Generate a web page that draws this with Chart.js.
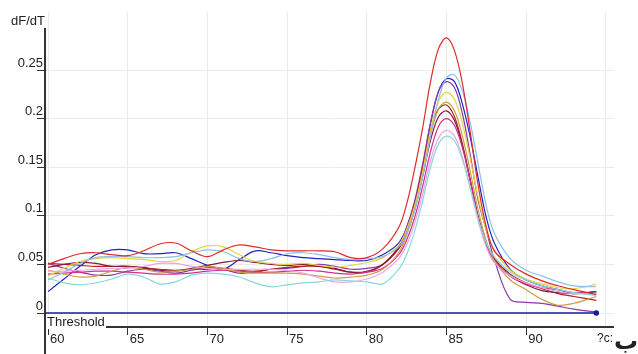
<!DOCTYPE html>
<html>
<head>
<meta charset="utf-8">
<script src="https://cdn.jsdelivr.net/npm/chart.js@4.4.1/dist/chart.umd.min.js"></script>
<style>
  html, body { margin: 0; padding: 0; background: #fff; }
  #wrap { width: 638px; height: 354px; }
</style>
</head>
<body>
<div id="wrap"><canvas id="melt" width="638" height="354"></canvas></div>
<script>
// Temperatures (°C) sampled for every curve
const temps = [60, 61, 62, 63, 64, 65, 66, 67, 68, 69, 70, 71, 72, 73, 74, 75, 76, 77, 78, 79, 80,
    81, 82, 82.5, 83, 83.5, 84, 84.5, 85, 85.5, 86, 86.5, 87, 87.5, 88, 89, 90, 91, 92, 93, 94.4];

// dF/dT per sample
const red = [0.050, 0.056, 0.061, 0.062, 0.060, 0.059, 0.064, 0.071, 0.072, 0.064, 0.058, 0.065, 0.070, 0.068, 0.065, 0.064, 0.064, 0.064, 0.063, 0.057, 0.057,
    0.066, 0.088, 0.112, 0.148, 0.190, 0.238, 0.272, 0.283, 0.270, 0.236, 0.185, 0.130, 0.088, 0.064, 0.050, 0.040, 0.033, 0.028, 0.024, 0.019];
const lightBlue = [0.034, 0.042, 0.051, 0.057, 0.058, 0.058, 0.057, 0.057, 0.058, 0.062, 0.065, 0.063, 0.056, 0.053, 0.056, 0.061, 0.062, 0.060, 0.057, 0.055, 0.056,
    0.058, 0.068, 0.082, 0.105, 0.140, 0.182, 0.220, 0.242, 0.245, 0.228, 0.195, 0.152, 0.110, 0.082, 0.056, 0.044, 0.038, 0.032, 0.028, 0.027];
const blue = [0.022, 0.035, 0.048, 0.060, 0.065, 0.065, 0.061, 0.061, 0.062, 0.056, 0.049, 0.045, 0.055, 0.064, 0.062, 0.059, 0.057, 0.056, 0.055, 0.054, 0.054,
    0.060, 0.072, 0.088, 0.113, 0.150, 0.195, 0.228, 0.241, 0.238, 0.215, 0.180, 0.138, 0.098, 0.072, 0.045, 0.034, 0.028, 0.024, 0.020, 0.022];
const purple = [0.051, 0.046, 0.042, 0.039, 0.039, 0.043, 0.045, 0.043, 0.041, 0.044, 0.047, 0.045, 0.041, 0.042, 0.045, 0.046, 0.048, 0.050, 0.048, 0.045, 0.046,
    0.050, 0.068, 0.088, 0.115, 0.153, 0.196, 0.228, 0.238, 0.232, 0.205, 0.162, 0.115, 0.085, 0.055, 0.014, 0.011, 0.010, 0.007, 0.004, 0.001];
const yellow = [0.038, 0.046, 0.053, 0.056, 0.057, 0.056, 0.055, 0.053, 0.054, 0.063, 0.069, 0.068, 0.060, 0.053, 0.051, 0.050, 0.051, 0.049, 0.047, 0.049, 0.052,
    0.057, 0.070, 0.086, 0.110, 0.145, 0.188, 0.218, 0.227, 0.220, 0.195, 0.158, 0.118, 0.085, 0.065, 0.044, 0.035, 0.030, 0.026, 0.025, 0.0295];
const gold = [0.044, 0.040, 0.037, 0.038, 0.043, 0.047, 0.045, 0.042, 0.043, 0.045, 0.048, 0.046, 0.042, 0.041, 0.041, 0.041, 0.040, 0.038, 0.036, 0.037, 0.039,
    0.045, 0.062, 0.080, 0.106, 0.142, 0.183, 0.210, 0.217, 0.208, 0.182, 0.145, 0.105, 0.074, 0.054, 0.034, 0.024, 0.014, 0.008, 0.010, 0.017];
const darkRed = [0.051, 0.050, 0.049, 0.048, 0.048, 0.048, 0.046, 0.045, 0.044, 0.045, 0.045, 0.046, 0.044, 0.043, 0.045, 0.047, 0.048, 0.048, 0.045, 0.042, 0.042,
    0.050, 0.068, 0.086, 0.112, 0.148, 0.188, 0.210, 0.214, 0.202, 0.174, 0.136, 0.098, 0.072, 0.056, 0.040, 0.031, 0.025, 0.020, 0.017, 0.013];
const maroon = [0.047, 0.050, 0.052, 0.051, 0.048, 0.048, 0.047, 0.044, 0.043, 0.046, 0.049, 0.052, 0.054, 0.052, 0.050, 0.049, 0.050, 0.048, 0.046, 0.042, 0.043,
    0.050, 0.066, 0.082, 0.106, 0.140, 0.178, 0.202, 0.208, 0.198, 0.172, 0.136, 0.098, 0.070, 0.054, 0.038, 0.029, 0.023, 0.021, 0.020, 0.022];
const magenta = [0.040, 0.041, 0.042, 0.043, 0.043, 0.042, 0.041, 0.040, 0.040, 0.041, 0.043, 0.044, 0.043, 0.042, 0.042, 0.043, 0.044, 0.043, 0.041, 0.040, 0.042,
    0.046, 0.060, 0.075, 0.098, 0.130, 0.166, 0.192, 0.200, 0.193, 0.170, 0.135, 0.098, 0.070, 0.053, 0.038, 0.030, 0.026, 0.024, 0.021, 0.020];
const pink = [0.043, 0.043, 0.044, 0.045, 0.046, 0.046, 0.048, 0.051, 0.051, 0.048, 0.046, 0.045, 0.045, 0.045, 0.045, 0.044, 0.041, 0.036, 0.032, 0.032, 0.035,
    0.042, 0.056, 0.070, 0.092, 0.122, 0.157, 0.180, 0.188, 0.182, 0.160, 0.128, 0.094, 0.068, 0.052, 0.038, 0.031, 0.026, 0.022, 0.020, 0.020];
const cyan = [0.036, 0.031, 0.029, 0.031, 0.035, 0.040, 0.037, 0.030, 0.032, 0.039, 0.041, 0.040, 0.037, 0.031, 0.027, 0.029, 0.031, 0.032, 0.034, 0.033, 0.032,
    0.030, 0.045, 0.060, 0.084, 0.115, 0.150, 0.174, 0.182, 0.177, 0.158, 0.128, 0.096, 0.072, 0.058, 0.042, 0.034, 0.028, 0.024, 0.021, 0.018];

const thresholdValue = 0;
const xTicks = [60, 65, 70, 75, 80, 85, 90, 95];
const yTicks = [0, 0.05, 0.1, 0.15, 0.2, 0.25];

const X_MIN = 59.81, X_MAX = 95.51;
const Y_MIN = -0.0144, Y_MAX = 0.3097;

const curves = [
    [red, '#e02a2a'],
    [lightBlue, '#8fbfe8'],
    [cyan, '#86d8dc'],
    [pink, '#f0a2e6'],
    [yellow, '#e6d43c'],
    [gold, '#c8a040'],
    [magenta, '#d0308c'],
    [maroon, '#8c1838'],
    [darkRed, '#b42020'],
    [purple, '#8a3aa8'],
    [blue, '#2424c4'],
];

const datasets = curves.map(([vals, color]) => ({
    data: vals.map((v, i) => ({ x: temps[i], y: v })),
    borderColor: color,
    borderWidth: 1.2,
    pointRadius: 0,
    tension: 0.35,
    fill: false,
}));

datasets.unshift({
    data: [{ x: X_MIN, y: thresholdValue }, { x: 94.4, y: thresholdValue }],
    borderColor: '#1818a8',
    backgroundColor: '#1818a8',
    borderWidth: 1.5,
    pointRadius: [0, 2],
    tension: 0,
});

const FONT = "'Liberation Sans', Arial, sans-serif";

// axis lines, labels and captions drawn like the original software
const decorations = {
    id: 'decorations',
    afterDraw(chart) {
        const ctx = chart.ctx;
        const area = chart.chartArea;
        ctx.save();
        ctx.strokeStyle = '#333';
        ctx.lineWidth = 2;
        ctx.beginPath();
        ctx.moveTo(area.left, 28);
        ctx.lineTo(area.left, 354);
        ctx.moveTo(area.left, area.bottom);
        ctx.lineTo(area.right, area.bottom);
        ctx.stroke();

        ctx.fillStyle = '#fff';
        ctx.fillRect(area.left + 1, area.bottom - 12, 60, 14);

        ctx.fillStyle = '#222';
        ctx.font = '13px ' + FONT;
        ctx.textBaseline = 'alphabetic';
        ctx.textAlign = 'left';
        ctx.fillText('Threshold', area.left + 2, area.bottom - 1);
        ctx.font = '12px ' + FONT;
        ctx.fillText('?c:', 597, 342);
        ctx.font = '13px ' + FONT;
        ctx.textAlign = 'right';
        ctx.fillText('dF/dT', area.left, 25);

        ctx.font = 'bold 24px "DejaVu Sans", sans-serif';
        ctx.textAlign = 'right';
        ctx.fillText('ب', 638, 349);
        ctx.restore();
    }
};

new Chart(document.getElementById('melt'), {
    type: 'line',
    data: { datasets },
    options: {
        responsive: false,
        animation: false,
        events: [],
        layout: { padding: { top: 12, right: 24, left: 0, bottom: 0 } },
        plugins: { legend: { display: false }, tooltip: { enabled: false } },
        scales: {
            x: {
                type: 'linear',
                min: X_MIN,
                max: X_MAX,
                afterBuildTicks: s => { s.ticks = xTicks.map(v => ({ value: v })); },
                afterFit: s => { s.height = 27; },
                border: { display: false },
                grid: {
                    color: '#ebebeb',
                    tickLength: 8,
                    tickColor: c => (c.tick && c.tick.value === 95) ? 'rgba(0,0,0,0)' : '#333',
                },
                ticks: {
                    align: 'start',
                    labelOffset: 2,
                    padding: -3,
                    maxRotation: 0,
                    color: '#222',
                    font: { family: FONT, size: 13 },
                    callback: v => v === 95 ? '' : String(v),
                },
            },
            y: {
                min: Y_MIN,
                max: Y_MAX,
                afterBuildTicks: s => { s.ticks = yTicks.map(v => ({ value: v })); },
                afterFit: s => { s.width = 45; },
                border: { display: false },
                grid: { color: '#ebebeb', tickLength: 8, tickColor: '#333' },
                ticks: {
                    labelOffset: -7,
                    padding: -6,
                    color: '#222',
                    font: { family: FONT, size: 13 },
                    callback: v => String(v),
                },
            },
        },
    },
    plugins: [decorations],
});
</script>
</body>
</html>
